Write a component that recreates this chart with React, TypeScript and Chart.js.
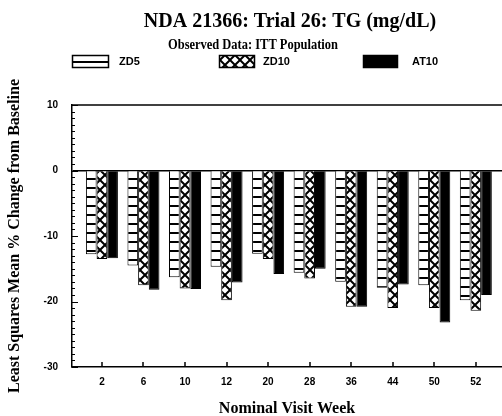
import React, { useEffect, useRef } from 'react';
import { Chart, registerables } from 'chart.js';

Chart.register(...registerables);

// Visit weeks on the x axis
const weeks = ['2', '6', '10', '12', '20', '28', '36', '44', '50', '52'];

// Least squares mean % change from baseline, per treatment arm
const zd5 = [-12.8, -14.5, -16.3, -14.7, -12.7, -15.6, -17.0, -17.9, -17.5, -19.8];
const zd10 = [-13.5, -17.5, -18.0, -19.8, -13.5, -16.5, -20.8, -21.0, -21.0, -21.4];
const at10 = [-13.4, -18.2, -18.1, -17.1, -15.8, -15.0, -20.8, -17.4, -23.2, -19.0];

const seriesNames = ['ZD5', 'ZD10', 'AT10'];

const yMin = -30;
const yMax = 10;
const yStep = 10;

const chartTitle = 'NDA 21366: Trial 26: TG (mg/dL)';
const chartSubtitle = 'Observed Data: ITT Population';
const yTitle = 'Least Squares Mean % Change from Baseline';
const xTitle = 'Nominal Visit Week';

const SERIF = '"Liberation Serif", "Times New Roman", serif';
const SANS = '"Liberation Sans", Arial, sans-serif';

function ladderPattern(): CanvasPattern {
  const c = document.createElement('canvas');
  c.width = 8;
  c.height = 9;
  const g = c.getContext('2d')!;
  g.fillStyle = '#fff';
  g.fillRect(0, 0, 8, 9);
  g.fillStyle = '#000';
  g.fillRect(0, 7, 8, 2);
  return g.createPattern(c, 'repeat')!;
}

function crossPattern(): CanvasPattern {
  const c = document.createElement('canvas');
  c.width = 10;
  c.height = 10;
  const g = c.getContext('2d')!;
  g.fillStyle = '#fff';
  g.fillRect(0, 0, 10, 10);
  g.strokeStyle = '#000';
  g.lineWidth = 2;
  g.beginPath();
  g.moveTo(-1, -1);
  g.lineTo(11, 11);
  g.moveTo(11, -1);
  g.lineTo(-1, 11);
  g.stroke();
  return g.createPattern(c, 'repeat')!;
}

// Top frame line plus inward-pointing minor/major tick marks
const framePlugin = {
  id: 'frame',
  afterDraw(chart: any) {
    const { ctx, chartArea: a, scales } = chart;
    ctx.save();
    ctx.strokeStyle = '#000';
    ctx.lineWidth = 1.5;
    ctx.beginPath();
    ctx.moveTo(a.left, a.top);
    ctx.lineTo(a.right, a.top);
    ctx.stroke();

    ctx.lineWidth = 1;
    const ys = scales.y;
    for (let v = yMin; v <= yMax; v += 1) {
      const py = Math.round(ys.getPixelForValue(v)) + 0.5;
      const len = v % yStep === 0 ? 6 : 3;
      ctx.beginPath();
      ctx.moveTo(a.left, py);
      ctx.lineTo(a.left + len, py);
      ctx.stroke();
    }
    const xs = scales.x;
    ctx.lineWidth = 1.5;
    weeks.forEach((_, i) => {
      const px = Math.round(xs.getPixelForValue(i));
      ctx.beginPath();
      ctx.moveTo(px, a.bottom);
      ctx.lineTo(px, a.bottom - 5);
      ctx.stroke();
    });
    ctx.restore();
  },
};

// Headings and the pattern legend across the top
const headerPlugin = {
  id: 'header',
  afterDraw(chart: any) {
    const { ctx } = chart;
    ctx.save();
    ctx.fillStyle = '#000';
    ctx.textAlign = 'center';
    ctx.textBaseline = 'alphabetic';
    ctx.font = `bold 20px ${SERIF}`;
    ctx.fillText(chartTitle, 290, 27);
    ctx.font = `bold 14px ${SERIF}`;
    ctx.fillText(chartSubtitle, 253, 49, 170);

    const boxes = [
      { x: 72, w: 37, tx: 119 },
      { x: 219, w: 36, tx: 263 },
      { x: 363, w: 35, tx: 412 },
    ];
    ctx.font = `bold 11px ${SANS}`;
    ctx.textAlign = 'left';
    ctx.textBaseline = 'middle';
    chart.data.datasets.forEach((ds: any, i: number) => {
      const b = boxes[i];
      ctx.fillStyle = ds.backgroundColor;
      ctx.fillRect(b.x, 55, b.w, 13);
      ctx.strokeStyle = '#000';
      ctx.lineWidth = 1.5;
      ctx.strokeRect(b.x + 0.5, 55.5, b.w - 1, 12);
      ctx.fillStyle = '#000';
      ctx.fillText(ds.label, b.tx, 62);
    });
    ctx.restore();
  },
};

export default function App() {
  const ref = useRef<HTMLCanvasElement | null>(null);

  useEffect(() => {
    document.body.style.margin = '0';
    const canvas = ref.current!;
    const fills = [ladderPattern(), crossPattern(), '#000'];
    const series = [zd5, zd10, at10];

    const chart = new Chart(canvas, {
      type: 'bar',
      data: {
        datasets: series.map((vals, i) => ({
          label: seriesNames[i],
          data: vals.map((v, k) => ({ x: k, y: v })),
          backgroundColor: fills[i] as any,
          borderColor: '#000',
          borderWidth: 1,
          categoryPercentage: 0.77,
          barPercentage: 1,
        })),
      },
      options: {
        responsive: false,
        animation: false,
        layout: { padding: { top: 105, left: 0, right: 0, bottom: 0 } },
        plugins: {
          legend: { display: false },
          title: { display: false },
          tooltip: { enabled: false },
        },
        scales: {
          x: {
            type: 'linear',
            min: -0.72,
            max: 9.63,
            offset: false,
            afterFit: (s: any) => {
              s.height = 49;
            },
            afterBuildTicks: (s: any) => {
              s.ticks = weeks.map((_, i) => ({ value: i }));
            },
            grid: { display: false, drawTicks: false },
            border: { display: true, color: '#000', width: 1.5 },
            ticks: {
              autoSkip: false,
              maxRotation: 0,
              padding: 9,
              color: '#000',
              font: { family: SANS, size: 10, weight: 'bold' },
              callback: (v: any) => weeks[v] ?? '',
            },
            title: {
              display: true,
              text: xTitle,
              color: '#000',
              font: { family: SERIF, size: 16, weight: 'bold' },
              padding: { top: 0, bottom: -2 },
            },
          },
          y: {
            min: yMin,
            max: yMax,
            afterFit: (s: any) => {
              s.width = 72;
            },
            grid: {
              drawTicks: false,
              lineWidth: 1.5,
              color: (c: any) => (c.tick && c.tick.value === 0 ? '#000' : 'rgba(0,0,0,0)'),
            },
            border: { display: true, color: '#000', width: 1.5 },
            ticks: {
              stepSize: yStep,
              padding: 14,
              color: '#000',
              font: { family: SANS, size: 10, weight: 'bold' },
            },
            title: {
              display: true,
              text: yTitle,
              color: '#000',
              font: { family: SERIF, size: 16, weight: 'bold' },
              padding: { top: 5, bottom: 0 },
            },
          },
        },
      },
      plugins: [framePlugin, headerPlugin],
    });
    return () => chart.destroy();
  }, []);

  return <canvas ref={ref} width={502} height={416} style={{ display: 'block' }} />;
}
